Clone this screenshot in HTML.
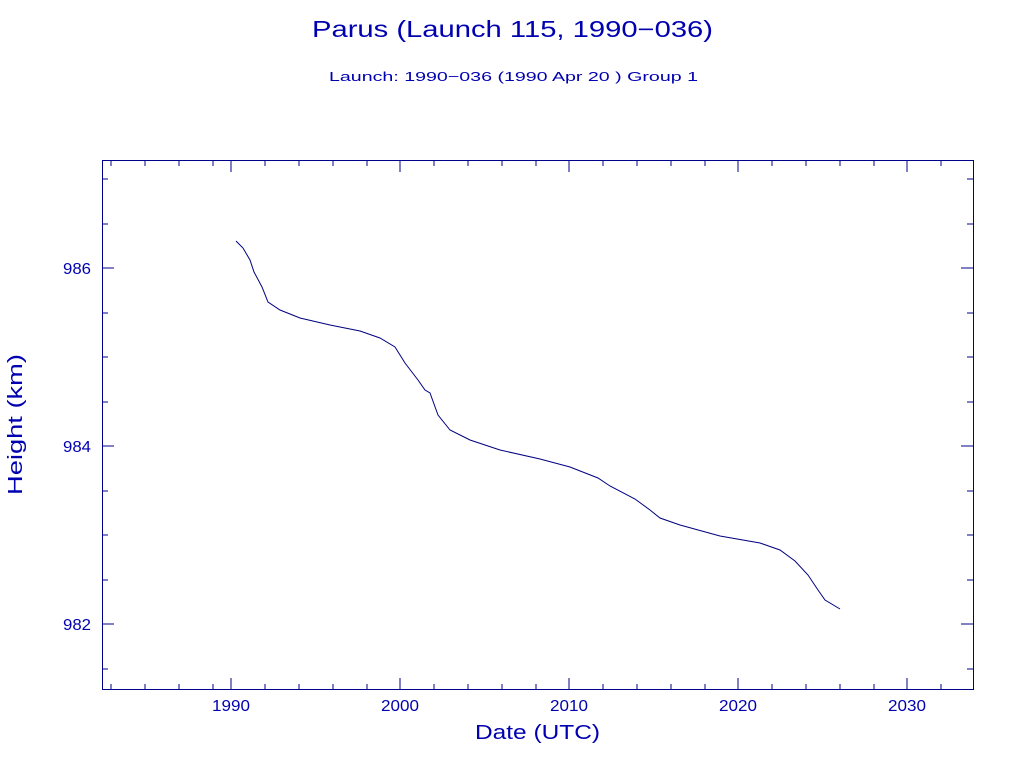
<!DOCTYPE html>
<html><head><style>body{margin:0;background:#fff}svg{display:block}</style></head><body>
<svg width="1024" height="768" xmlns="http://www.w3.org/2000/svg" font-family="Liberation Sans, DejaVu Sans, sans-serif" fill="#0000b0">
<text x="312" y="37" font-size="23" textLength="401" lengthAdjust="spacingAndGlyphs">Parus (Launch 115, 1990−036)</text>
<text x="329" y="81" font-size="13" textLength="369" lengthAdjust="spacingAndGlyphs">Launch: 1990−036  (1990 Apr 20 )  Group 1</text>
<g stroke="#00008b" stroke-width="1" fill="none">
<rect x="102.5" y="160.5" width="871" height="529"/>
<path d="M231 690v-12M400 690v-12M569 690v-12M738 690v-12M907 690v-12M231 160v12M400 160v12M569 160v12M738 160v12M907 160v12
M111 690v-6M145 690v-6M179 690v-6M213 690v-6M265 690v-6M299 690v-6M333 690v-6M367 690v-6M434 690v-6M468 690v-6M502 690v-6M536 690v-6M603 690v-6M637 690v-6M671 690v-6M705 690v-6M772 690v-6M806 690v-6M840 690v-6M874 690v-6M941 690v-6
M111 160v6M145 160v6M179 160v6M213 160v6M265 160v6M299 160v6M333 160v6M367 160v6M434 160v6M468 160v6M502 160v6M536 160v6M603 160v6M637 160v6M671 160v6M705 160v6M772 160v6M806 160v6M840 160v6M874 160v6M941 160v6
M102 268h12M102 446h12M102 624h12M973 268h-12M973 446h-12M973 624h-12
M102 179h6M102 224h6M102 313h6M102 357h6M102 402h6M102 491h6M102 535h6M102 580h6M102 669h6
M973 179h-6M973 224h-6M973 313h-6M973 357h-6M973 402h-6M973 491h-6M973 535h-6M973 580h-6M973 669h-6"/>
<polyline stroke="#000080" points="236,241 243,248 250,260 254,272 262,287 268,302 280,310 300,318 330,325 360,331 380,338 395,347 405,363 418,380 425,390 430,393 438,415 450,430 470,440 500,450 540,459 570,467 598,478 610,486 635,499 650,510 660,518 680,525 720,536 760,543 780,550 795,561 808,575 818,590 825,600 840,609"/>
</g>
<g font-size="16">
<text x="212" y="711" textLength="38" lengthAdjust="spacingAndGlyphs">1990</text>
<text x="381" y="711" textLength="38" lengthAdjust="spacingAndGlyphs">2000</text>
<text x="550" y="711" textLength="38" lengthAdjust="spacingAndGlyphs">2010</text>
<text x="719" y="711" textLength="38" lengthAdjust="spacingAndGlyphs">2020</text>
<text x="888" y="711" textLength="38" lengthAdjust="spacingAndGlyphs">2030</text>
<text x="63" y="274" textLength="28" lengthAdjust="spacingAndGlyphs">986</text>
<text x="63" y="452" textLength="28" lengthAdjust="spacingAndGlyphs">984</text>
<text x="63" y="630" textLength="28" lengthAdjust="spacingAndGlyphs">982</text>
</g>
<text x="475" y="739" font-size="20" textLength="125" lengthAdjust="spacingAndGlyphs">Date (UTC)</text>
<text transform="translate(22,495) rotate(-90)" font-size="20" textLength="141" lengthAdjust="spacingAndGlyphs">Height (km)</text>
</svg>
</body></html>
